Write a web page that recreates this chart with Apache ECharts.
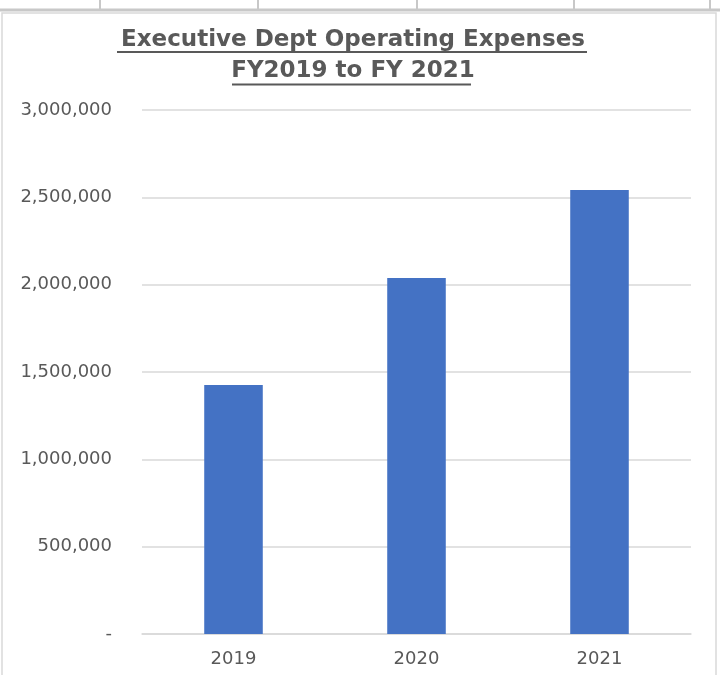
<!DOCTYPE html>
<html>
<head>
<meta charset="utf-8">
<script src="https://cdn.jsdelivr.net/npm/echarts@6/dist/echarts.min.js"></script>
<style>
  html, body { margin: 0; padding: 0; background: #fff; }
  #chart { width: 720px; height: 675px; }
</style>
</head>
<body>
<div id="chart"></div>
<script>
// Fiscal years and operating expenses
const years = ['2019', '2020', '2021'];
const expenses = [1425000, 2038000, 2542000];
const titleLines = ['Executive Dept Operating Expenses', 'FY2019 to FY 2021'];

const chart = echarts.init(document.getElementById('chart'));
const textColor = '#595959';
const lineColor = '#d9d9d9';

function fmt(v) {
  if (v === 0) return '-';
  return v.toString().replace(/\B(?=(\d{3})+(?!\d))/g, ',');
}

chart.setOption({
  animation: false,
  backgroundColor: '#fff',
  textStyle: { fontFamily: 'DejaVu Sans' },
  title: {
    text: titleLines[0] + '\n' + titleLines[1],
    left: 348,
    textAlign: 'center',
    top: 20,
    textStyle: {
      fontFamily: 'DejaVu Sans',
      fontWeight: 'bold',
      fontSize: 23,
      color: textColor,
      lineHeight: 31
    }
  },
  graphic: [
    // spreadsheet cell strip above the chart frame
    { type: 'line', shape: { x1: 0, y1: 10, x2: 720, y2: 10 }, style: { stroke: '#c8c8c8', lineWidth: 3 } },
    { type: 'line', shape: { x1: 100, y1: 0, x2: 100, y2: 9 }, style: { stroke: '#c8c8c8', lineWidth: 2 } },
    { type: 'line', shape: { x1: 258, y1: 0, x2: 258, y2: 9 }, style: { stroke: '#c8c8c8', lineWidth: 2 } },
    { type: 'line', shape: { x1: 417, y1: 0, x2: 417, y2: 9 }, style: { stroke: '#c8c8c8', lineWidth: 2 } },
    { type: 'line', shape: { x1: 574, y1: 0, x2: 574, y2: 9 }, style: { stroke: '#c8c8c8', lineWidth: 2 } },
    { type: 'line', shape: { x1: 710, y1: 0, x2: 710, y2: 9 }, style: { stroke: '#c8c8c8', lineWidth: 2 } },
    // chart frame
    { type: 'rect', shape: { x: 2, y: 13, width: 714, height: 670 }, style: { fill: 'none', stroke: '#d9d9d9', lineWidth: 1.5 } },
    // title underlines
    { type: 'line', shape: { x1: 117, y1: 52, x2: 587, y2: 52 }, style: { stroke: textColor, lineWidth: 1.8 } },
    { type: 'line', shape: { x1: 232, y1: 84.5, x2: 471, y2: 84.5 }, style: { stroke: textColor, lineWidth: 1.8 } }
  ],
  grid: { left: 142, right: 29, top: 110, bottom: 41 },
  xAxis: {
    type: 'category',
    data: years,
    axisLine: { lineStyle: { color: lineColor, width: 1.5 } },
    axisTick: { show: false },
    axisLabel: { color: textColor, fontSize: 18, margin: 16 }
  },
  yAxis: {
    type: 'value',
    min: 0,
    max: 3000000,
    interval: 500000,
    axisLine: { show: false },
    axisTick: { show: false },
    splitLine: { lineStyle: { color: lineColor, width: 1.5 } },
    axisLabel: {
      color: textColor,
      fontSize: 18,
      margin: 30,
      formatter: fmt
    }
  },
  series: [{
    type: 'bar',
    data: expenses,
    barWidth: '32%',
    itemStyle: { color: '#4472C4' }
  }]
});
</script>
</body>
</html>
